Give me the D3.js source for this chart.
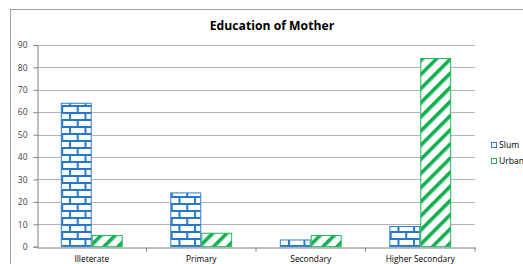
<!DOCTYPE html>
<html>
<head>
<meta charset="utf-8">
<script src="https://cdn.jsdelivr.net/npm/d3@7"></script>
<style>
  body { margin: 0; background: #fff; }
  svg { display: block; font-family: "Open Sans", sans-serif; }
</style>
</head>
<body>
<script>
var categories = ["Illeterate", "Primary", "Secondary", "Higher Secondary"];
var seriesNames = ["Slum", "Urban"];
var slumValues = [64, 24, 3, 9];
var urbanValues = [5, 6, 5, 84];
var yTicks = [0, 10, 20, 30, 40, 50, 60, 70, 80, 90];

var width = 523, height = 264;
var plot = {left: 37, right: 475, top: 45, bottom: 246.7};

var svg = d3.select("body").append("svg")
    .attr("width", width)
    .attr("height", height);

// patterns: blue brick and green diagonal stripes
var defs = svg.append("defs");
var brick = defs.append("pattern")
    .attr("id", "brick")
    .attr("patternUnits", "userSpaceOnUse")
    .attr("width", 15.5).attr("height", 14);
brick.append("rect").attr("width", 15.5).attr("height", 14).attr("fill", "#fff");
brick.append("path")
    .attr("d", "M0,1H15.5M0,8H15.5M2,1V8M9.75,8V14")
    .attr("stroke", "#2878c8").attr("stroke-width", 2).attr("fill", "none");

var stripe = defs.append("pattern")
    .attr("id", "stripe")
    .attr("patternUnits", "userSpaceOnUse")
    .attr("width", 10).attr("height", 10)
    .attr("patternTransform", "rotate(45)");
stripe.append("rect").attr("width", 10).attr("height", 10).attr("fill", "#fff");
stripe.append("rect").attr("width", 3.6).attr("height", 10).attr("fill", "#10b050");

var fills = {Slum: "url(#brick)", Urban: "url(#stripe)"};
var strokes = {Slum: "#2e7fd0", Urban: "#22b55a"};

// chart frame
svg.append("rect")
    .attr("x", 10.5).attr("y", 9.5)
    .attr("width", 560).attr("height", 300)
    .attr("fill", "none").attr("stroke", "#a0a0a0");

svg.append("text")
    .attr("x", 272).attr("y", 30)
    .attr("text-anchor", "middle")
    .attr("font-size", 12.2).attr("font-weight", "bold")
    .attr("fill", "#000")
    .text("Education of Mother");

var x0 = d3.scaleBand().domain(categories).range([plot.left, plot.right]);
var x1 = d3.scaleBand().domain(seriesNames).range([0, x0.bandwidth()]).paddingOuter(0.77);
var y = d3.scaleLinear().domain([0, 90]).range([plot.bottom, plot.top]);

// gridlines
svg.append("g").selectAll("line")
    .data(yTicks.slice(1))
  .enter().append("line")
    .attr("x1", plot.left).attr("x2", plot.right)
    .attr("y1", function(d) { return Math.round(y(d)) + 0.5; })
    .attr("y2", function(d) { return Math.round(y(d)) + 0.5; })
    .attr("stroke", "#b4b4b4");

var yAxis = svg.append("g")
    .attr("transform", "translate(" + (plot.left + 0.5) + ",0)")
    .call(d3.axisLeft(y).tickValues(yTicks).tickSize(4).tickPadding(6));
yAxis.selectAll("text").attr("font-size", 8.5).attr("fill", "#404040").attr("font-family", "Open Sans");

var data = categories.map(function(c, i) {
  return {name: c, values: [{key: "Slum", value: slumValues[i]}, {key: "Urban", value: urbanValues[i]}]};
});

var groups = svg.append("g").selectAll("g")
    .data(data)
  .enter().append("g")
    .attr("transform", function(d) { return "translate(" + x0(d.name) + ",0)"; });

groups.selectAll("rect")
    .data(function(d) { return d.values; })
  .enter().append("rect")
    .attr("x", function(d) { return x1(d.key) + 0.5; })
    .attr("y", function(d) { return y(d.value); })
    .attr("width", x1.bandwidth() - 1)
    .attr("height", function(d) { return plot.bottom - y(d.value); })
    .attr("fill", function(d) { return fills[d.key]; })
    .attr("stroke", function(d) { return strokes[d.key]; })
    .attr("stroke-width", 1);

var xAxis = svg.append("g")
    .attr("transform", "translate(0," + (Math.round(plot.bottom) + 0.5) + ")")
    .call(d3.axisBottom(x0).tickSize(0).tickPadding(9));
xAxis.selectAll("text").attr("font-size", 8.4).attr("fill", "#000").attr("font-family", "Open Sans");
// category boundary ticks
xAxis.selectAll(".sep")
    .data(categories)
  .enter().append("line")
    .attr("x1", function(d) { return x0(d) + x0.bandwidth(); })
    .attr("x2", function(d) { return x0(d) + x0.bandwidth(); })
    .attr("y1", 0).attr("y2", 4)
    .attr("stroke", "#808080");

svg.selectAll(".domain").attr("stroke", "#808080");
yAxis.selectAll(".tick line").attr("stroke", "#808080");

// legend
var legend = svg.append("g").selectAll("g")
    .data(seriesNames)
  .enter().append("g")
    .attr("transform", function(d, i) { return "translate(491," + (142 + i * 16) + ")"; });
legend.append("rect")
    .attr("x", 0.5).attr("y", 0.5)
    .attr("width", 5).attr("height", 5)
    .attr("fill", "#fff")
    .attr("stroke", function(d) { return strokes[d]; });
legend.append("text")
    .attr("x", 8).attr("y", 6)
    .attr("font-size", 8.6).attr("fill", "#000")
    .text(function(d) { return d; });
</script>
</body>
</html>
